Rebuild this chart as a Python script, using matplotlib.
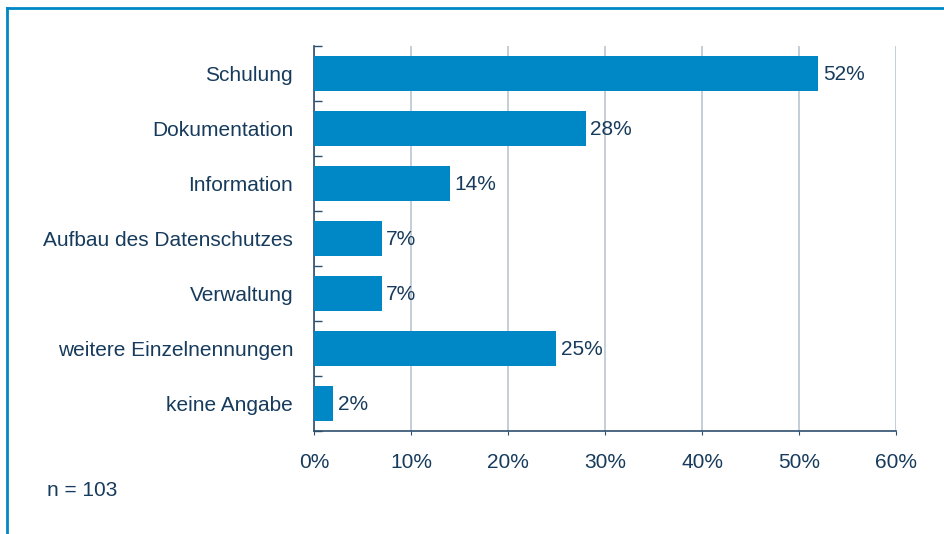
import matplotlib.pyplot as plt
from matplotlib.lines import Line2D

categories = ["Schulung", "Dokumentation", "Information", "Aufbau des Datenschutzes",
              "Verwaltung", "weitere Einzelnennungen", "keine Angabe"]
values = [52, 28, 14, 7, 7, 25, 2]
xticks = [0, 10, 20, 30, 40, 50, 60]
xticklabels = ["0%", "10%", "20%", "30%", "40%", "50%", "60%"]
note = "n = 103"

BAR = '#0087c6'
TXT = '#173b5c'
AXC = '#2c4e6e'
GRID = '#b9c6d3'
FS = 15

plt.rcParams['font.family'] = ['Liberation Sans', 'DejaVu Sans']

fig = plt.figure(figsize=(9.45, 5.34), dpi=100)
ax = fig.add_axes([314/945, 1 - 431/534, 582/945, 385/534])

pos = list(range(len(categories)))
ax.barh(pos, values, height=0.62, color=BAR, zorder=3)
for p, v in zip(pos, values):
    ax.text(v + 0.45, p + 0.02, f"{v}%", va='center', ha='left', fontsize=FS, color=TXT, zorder=4)

ax.set_ylim(len(categories) - 0.5, -0.5)
ax.set_xlim(0, 60)
ax.set_xticks(xticks)
ax.set_xticklabels(xticklabels)
ax.set_yticks(pos)
ax.set_yticklabels(categories)
ax.set_yticks([p + 0.5 for p in range(-1, len(categories))], minor=True)

ax.tick_params(axis='y', which='major', length=0, pad=15, labelsize=FS, labelcolor=TXT)
ax.tick_params(axis='y', which='minor', direction='in', length=6, color=AXC, width=1)
ax.tick_params(axis='x', length=3, color=AXC, pad=13, labelsize=FS, labelcolor=TXT)

ax.grid(axis='x', color=GRID, linewidth=1.2, zorder=0)
for s in ['top', 'right']:
    ax.spines[s].set_visible(False)
for s in ['left', 'bottom']:
    ax.spines[s].set_color(AXC)
    ax.spines[s].set_linewidth(1.2)

fig.text(47/945, 1 - 490/534, note, fontsize=FS, color=TXT, va='center', ha='left')

# Rahmen links und oben
fig.add_artist(Line2D([7/945, 7/945], [0, 1 - 8/534], color='#0087c6', linewidth=2, transform=fig.transFigure))
fig.add_artist(Line2D([7/945, 1], [1 - 8/534, 1 - 8/534], color='#0087c6', linewidth=2, transform=fig.transFigure))

fig.savefig("out.png", dpi=100)
